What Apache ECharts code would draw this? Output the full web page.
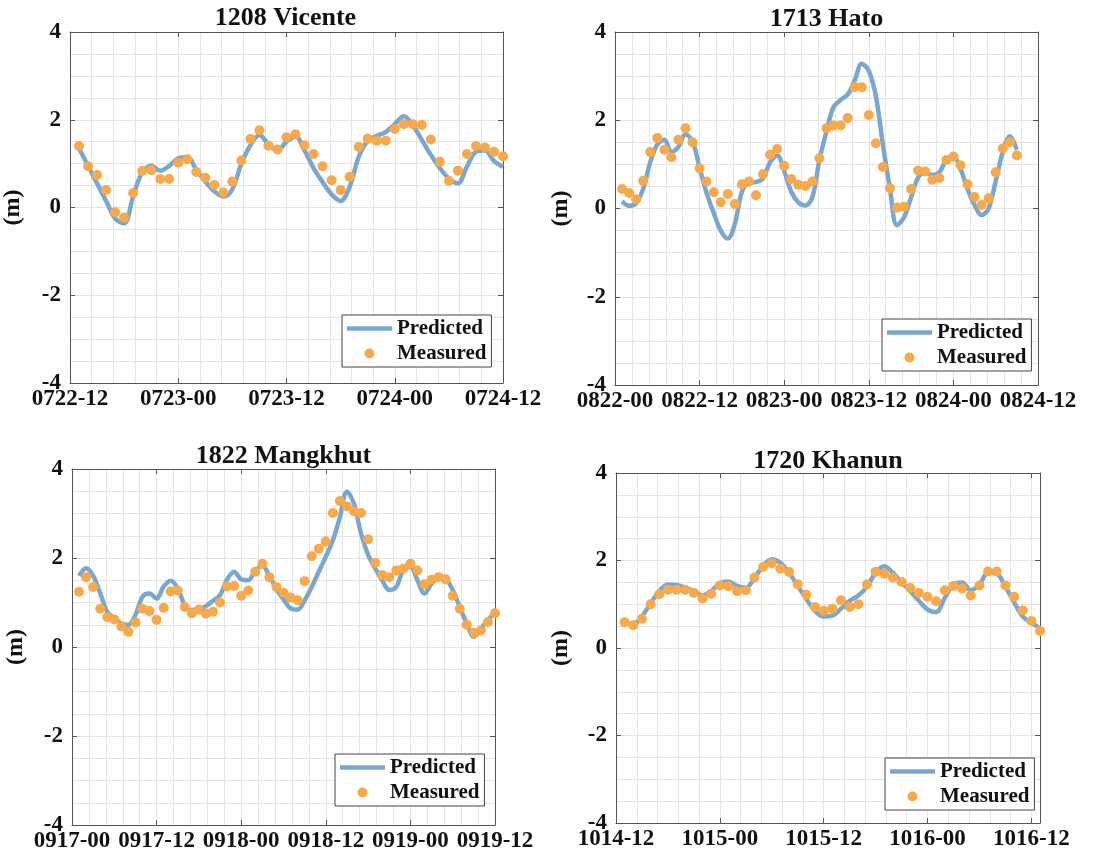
<!DOCTYPE html>
<html>
<head>
<meta charset="utf-8">
<script src="https://cdn.jsdelivr.net/npm/echarts@6/dist/echarts.min.js"></script>
<style>
  html, body { margin: 0; padding: 0; background: #fff; }
  #chart { width: 1104px; height: 861px; }
</style>
</head>
<body>
<div id="chart"></div>
<script>
// ---- Water level data (m), hourly, hour 1 = one hour after the first tick ----
const vicenteTicks = ['0722-12', '0723-00', '0723-12', '0724-00', '0724-12'];
const vicenteMeasured = [1.40, 0.94, 0.74, 0.40, -0.11, -0.23, 0.33, 0.83, 0.85, 0.65, 0.65, 1.02, 1.10, 0.81, 0.68, 0.51, 0.34, 0.59, 1.07, 1.56, 1.76, 1.41, 1.32, 1.60, 1.67, 1.42, 1.22, 0.94, 0.62, 0.40, 0.70, 1.38, 1.57, 1.52, 1.52, 1.79, 1.90, 1.90, 1.88, 1.55, 1.04, 0.61, 0.84, 1.22, 1.40, 1.37, 1.27, 1.17];
const vicentePredicted = [1.35, 0.95, 0.55, 0.15, -0.25, -0.36, 0.25, 0.80, 0.95, 0.84, 0.95, 1.12, 1.15, 0.86, 0.59, 0.37, 0.25, 0.42, 1.00, 1.42, 1.65, 1.44, 1.30, 1.50, 1.62, 1.30, 0.90, 0.58, 0.30, 0.15, 0.47, 1.15, 1.52, 1.63, 1.72, 1.90, 2.08, 1.88, 1.54, 1.20, 0.90, 0.66, 0.55, 0.93, 1.27, 1.30, 1.06, 0.93];

const hatoTicks = ['0822-00', '0822-12', '0823-00', '0823-12', '0824-00', '0824-12'];
const hatoMeasured = [0.44, 0.35, 0.21, 0.63, 1.28, 1.60, 1.33, 1.16, 1.56, 1.82, 1.50, 0.91, 0.61, 0.37, 0.14, 0.33, 0.10, 0.55, 0.61, 0.30, 0.78, 1.22, 1.35, 0.97, 0.67, 0.54, 0.51, 0.61, 1.14, 1.82, 1.88, 1.88, 2.05, 2.75, 2.75, 2.12, 1.48, 0.94, 0.46, 0.02, 0.04, 0.44, 0.86, 0.84, 0.65, 0.69, 1.10, 1.18, 0.98, 0.55, 0.26, 0.08, 0.23, 0.82, 1.36, 1.50, 1.20];
const hatoPredicted = [0.16, 0.06, 0.12, 0.45, 1.05, 1.45, 1.56, 1.28, 1.40, 1.68, 1.52, 0.92, 0.35, -0.10, -0.50, -0.68, -0.35, 0.38, 0.58, 0.60, 0.68, 1.05, 1.20, 0.85, 0.38, 0.14, 0.07, 0.26, 1.10, 1.75, 2.30, 2.46, 2.58, 2.90, 3.28, 3.12, 2.55, 1.45, 0.45, -0.38, -0.20, 0.25, 0.70, 0.82, 0.76, 0.82, 1.10, 1.18, 0.90, 0.45, 0.08, -0.15, 0.00, 0.62, 1.28, 1.64, 1.33];

const mangkhutTicks = ['0917-00', '0917-12', '0918-00', '0918-12', '0919-00', '0919-12'];
const mangkhutMeasured = [1.24, 1.57, 1.35, 0.86, 0.67, 0.62, 0.46, 0.34, 0.55, 0.86, 0.81, 0.61, 0.88, 1.25, 1.27, 0.90, 0.76, 0.84, 0.75, 0.79, 1.00, 1.36, 1.37, 1.15, 1.27, 1.69, 1.87, 1.57, 1.35, 1.22, 1.11, 1.05, 1.48, 2.04, 2.21, 2.37, 3.01, 3.28, 3.16, 3.05, 3.01, 2.42, 1.89, 1.62, 1.57, 1.72, 1.76, 1.87, 1.72, 1.41, 1.51, 1.57, 1.52, 1.15, 0.86, 0.50, 0.32, 0.37, 0.56, 0.76];
const mangkhutPredicted = [1.60, 1.77, 1.60, 1.21, 0.79, 0.65, 0.53, 0.50, 0.72, 1.13, 1.20, 1.09, 1.36, 1.49, 1.32, 0.94, 0.83, 0.85, 0.92, 1.04, 1.17, 1.52, 1.69, 1.52, 1.50, 1.72, 1.82, 1.60, 1.30, 1.07, 0.87, 0.84, 1.05, 1.35, 1.69, 2.03, 2.40, 2.92, 3.49, 3.22, 2.55, 2.07, 1.77, 1.50, 1.28, 1.35, 1.73, 1.80, 1.50, 1.20, 1.42, 1.54, 1.52, 1.28, 0.90, 0.53, 0.23, 0.42, 0.60, 0.79];

const khanunTicks = ['1014-12', '1015-00', '1015-12', '1016-00', '1016-12'];
const khanunMeasured = [0.59, 0.52, 0.67, 1.00, 1.23, 1.33, 1.33, 1.33, 1.26, 1.13, 1.24, 1.43, 1.41, 1.30, 1.32, 1.61, 1.85, 1.94, 1.81, 1.74, 1.46, 1.22, 0.94, 0.85, 0.90, 1.09, 0.94, 1.00, 1.45, 1.74, 1.70, 1.61, 1.51, 1.37, 1.26, 1.17, 1.07, 1.32, 1.42, 1.36, 1.20, 1.43, 1.75, 1.75, 1.43, 1.17, 0.86, 0.62, 0.39];
const khanunPredicted = [0.56, 0.55, 0.72, 1.02, 1.30, 1.45, 1.44, 1.38, 1.30, 1.20, 1.30, 1.48, 1.52, 1.42, 1.38, 1.60, 1.88, 2.03, 1.95, 1.72, 1.42, 1.12, 0.85, 0.72, 0.74, 0.90, 1.08, 1.20, 1.40, 1.72, 1.87, 1.72, 1.50, 1.30, 1.08, 0.88, 0.82, 1.15, 1.45, 1.50, 1.32, 1.45, 1.72, 1.70, 1.40, 1.05, 0.72, 0.58, 0.45];

const titles = ['1208 Vicente', '1713 Hato', '1822 Mangkhut', '1720 Khanun'];
const spans = [48, 60, 60, 49];            // hours shown on each x axis
const tickLabels = [vicenteTicks, hatoTicks, mangkhutTicks, khanunTicks];
const predictedSets = [vicentePredicted, hatoPredicted, mangkhutPredicted, khanunPredicted];
const measuredSets = [vicenteMeasured, hatoMeasured, mangkhutMeasured, khanunMeasured];

// ---- Panel layout (pixels) ----
const frames = [
  { left: 68,  top: 32,  width: 435, height: 351, titleTop: 5,   legendLeft: 342, legendTop: 315, nameGap: 45 },
  { left: 615, top: 32,  width: 423, height: 353, titleTop: 6,   legendLeft: 882, legendTop: 319, nameGap: 42 },
  { left: 72,  top: 469, width: 423, height: 356, titleTop: 443, legendLeft: 335, legendTop: 754, nameGap: 44 },
  { left: 616, top: 473, width: 424, height: 350, titleTop: 448, legendLeft: 885, legendTop: 758, nameGap: 43 }
];

const FONT = "'Liberation Serif', 'Times New Roman', serif";
const TEXT = '#111';
const AXIS = '#555';
const MAJOR = '#d4d4d4';
const MINOR = '#e4e4e4';
const BLUE = '#7aa7d0';
const ORANGE = '#f7a94b';
// plain bar used as the legend key of the predicted curve
const LINE_KEY = 'path://M0,0L45,0L45,4.5L0,4.5Z';

const grid = [], xAxis = [], yAxis = [], series = [], title = [], legend = [];

frames.forEach((f, p) => {
  const span = spans[p];
  const ticks = tickLabels[p];
  grid.push({ left: f.left, top: f.top, width: f.width, height: f.height, containLabel: false });

  title.push({
    text: titles[p], left: f.left + f.width / 2, top: f.titleTop, textAlign: 'center', padding: 0,
    textStyle: { fontFamily: FONT, fontWeight: 'bold', fontSize: 26, color: TEXT }
  });

  // bottom axis with labels and 12-hour grid lines
  xAxis.push({
    gridIndex: p, type: 'value', min: 0, max: span, interval: 12, position: 'bottom',
    axisLine: { show: true, onZero: false, lineStyle: { color: AXIS, width: 1 } },
    axisTick: { show: true, inside: true, length: 5, lineStyle: { color: AXIS } },
    axisLabel: {
      margin: 5, fontFamily: FONT, fontWeight: 'bold', fontSize: 23, color: TEXT,
      showMinLabel: true, showMaxLabel: true,
      formatter: v => (v % 12 === 0 && ticks[v / 12] !== undefined) ? ticks[v / 12] : ''
    },
    splitLine: { show: true, lineStyle: { color: MAJOR, width: 1 } }
  });
  // top edge of the box
  xAxis.push({
    gridIndex: p, type: 'value', min: 0, max: span, interval: 12, position: 'top',
    axisLine: { show: true, onZero: false, lineStyle: { color: AXIS, width: 1 } },
    axisTick: { show: true, inside: true, length: 5, lineStyle: { color: AXIS } },
    axisLabel: { show: false }, splitLine: { show: false }
  });
  // minor vertical grid (every 2.4 h)
  xAxis.push({
    gridIndex: p, type: 'value', min: 0, max: span, interval: 2.4, position: 'bottom',
    axisLine: { show: false }, axisTick: { show: false }, axisLabel: { show: false },
    splitLine: { show: true, lineStyle: { color: MINOR, width: 1 } }
  });

  yAxis.push({
    gridIndex: p, type: 'value', min: -4, max: 4, interval: 2, position: 'left',
    name: '(m)', nameLocation: 'middle', nameGap: f.nameGap,
    nameTextStyle: { fontFamily: FONT, fontWeight: 'bold', fontSize: 24, color: TEXT },
    axisLine: { show: true, onZero: false, lineStyle: { color: AXIS, width: 1 } },
    axisTick: { show: true, inside: true, length: 5, lineStyle: { color: AXIS } },
    axisLabel: { margin: 9, fontFamily: FONT, fontWeight: 'bold', fontSize: 23, color: TEXT },
    splitLine: { show: true, lineStyle: { color: MAJOR, width: 1 } }
  });
  yAxis.push({
    gridIndex: p, type: 'value', min: -4, max: 4, interval: 2, position: 'right',
    axisLine: { show: true, onZero: false, lineStyle: { color: AXIS, width: 1 } },
    axisTick: { show: true, inside: true, length: 5, lineStyle: { color: AXIS } },
    axisLabel: { show: false }, splitLine: { show: false }
  });
  yAxis.push({
    gridIndex: p, type: 'value', min: -4, max: 4, interval: 0.5, position: 'left',
    axisLine: { show: false }, axisTick: { show: false }, axisLabel: { show: false },
    splitLine: { show: true, lineStyle: { color: MINOR, width: 1 } }
  });

  series.push({
    name: 'Predicted', type: 'line', xAxisIndex: 3 * p, yAxisIndex: 3 * p,
    data: predictedSets[p].map((v, i) => [i + 1, v]),
    symbol: 'none', showSymbol: false, smooth: 0.35,
    lineStyle: { color: BLUE, width: 4.5 }, itemStyle: { color: BLUE },
    z: 2, animation: false
  });
  series.push({
    name: 'Measured', type: 'scatter', xAxisIndex: 3 * p, yAxisIndex: 3 * p,
    data: measuredSets[p].map((v, i) => [i + 1, v]),
    symbol: 'circle', symbolSize: 10, itemStyle: { color: ORANGE, opacity: 1 },
    clip: false, z: 3, animation: false
  });

  legend.push({
    data: [{ name: 'Predicted', icon: LINE_KEY }, { name: 'Measured', icon: 'circle' }],
    orient: 'vertical',
    left: f.legendLeft, top: f.legendTop,
    itemWidth: 45, itemHeight: 10, itemGap: 4, padding: [3, 5, 3, 5],
    borderColor: '#444', borderWidth: 1, backgroundColor: '#fff',
    selectedMode: false,
    textStyle: { fontFamily: FONT, fontWeight: 'bold', fontSize: 21, color: TEXT }
  });
});

const chart = echarts.init(document.getElementById('chart'), null, { renderer: 'canvas' });
chart.setOption({
  backgroundColor: '#fff',
  animation: false,
  title, grid, xAxis, yAxis, legend, series
});
</script>
</body>
</html>
